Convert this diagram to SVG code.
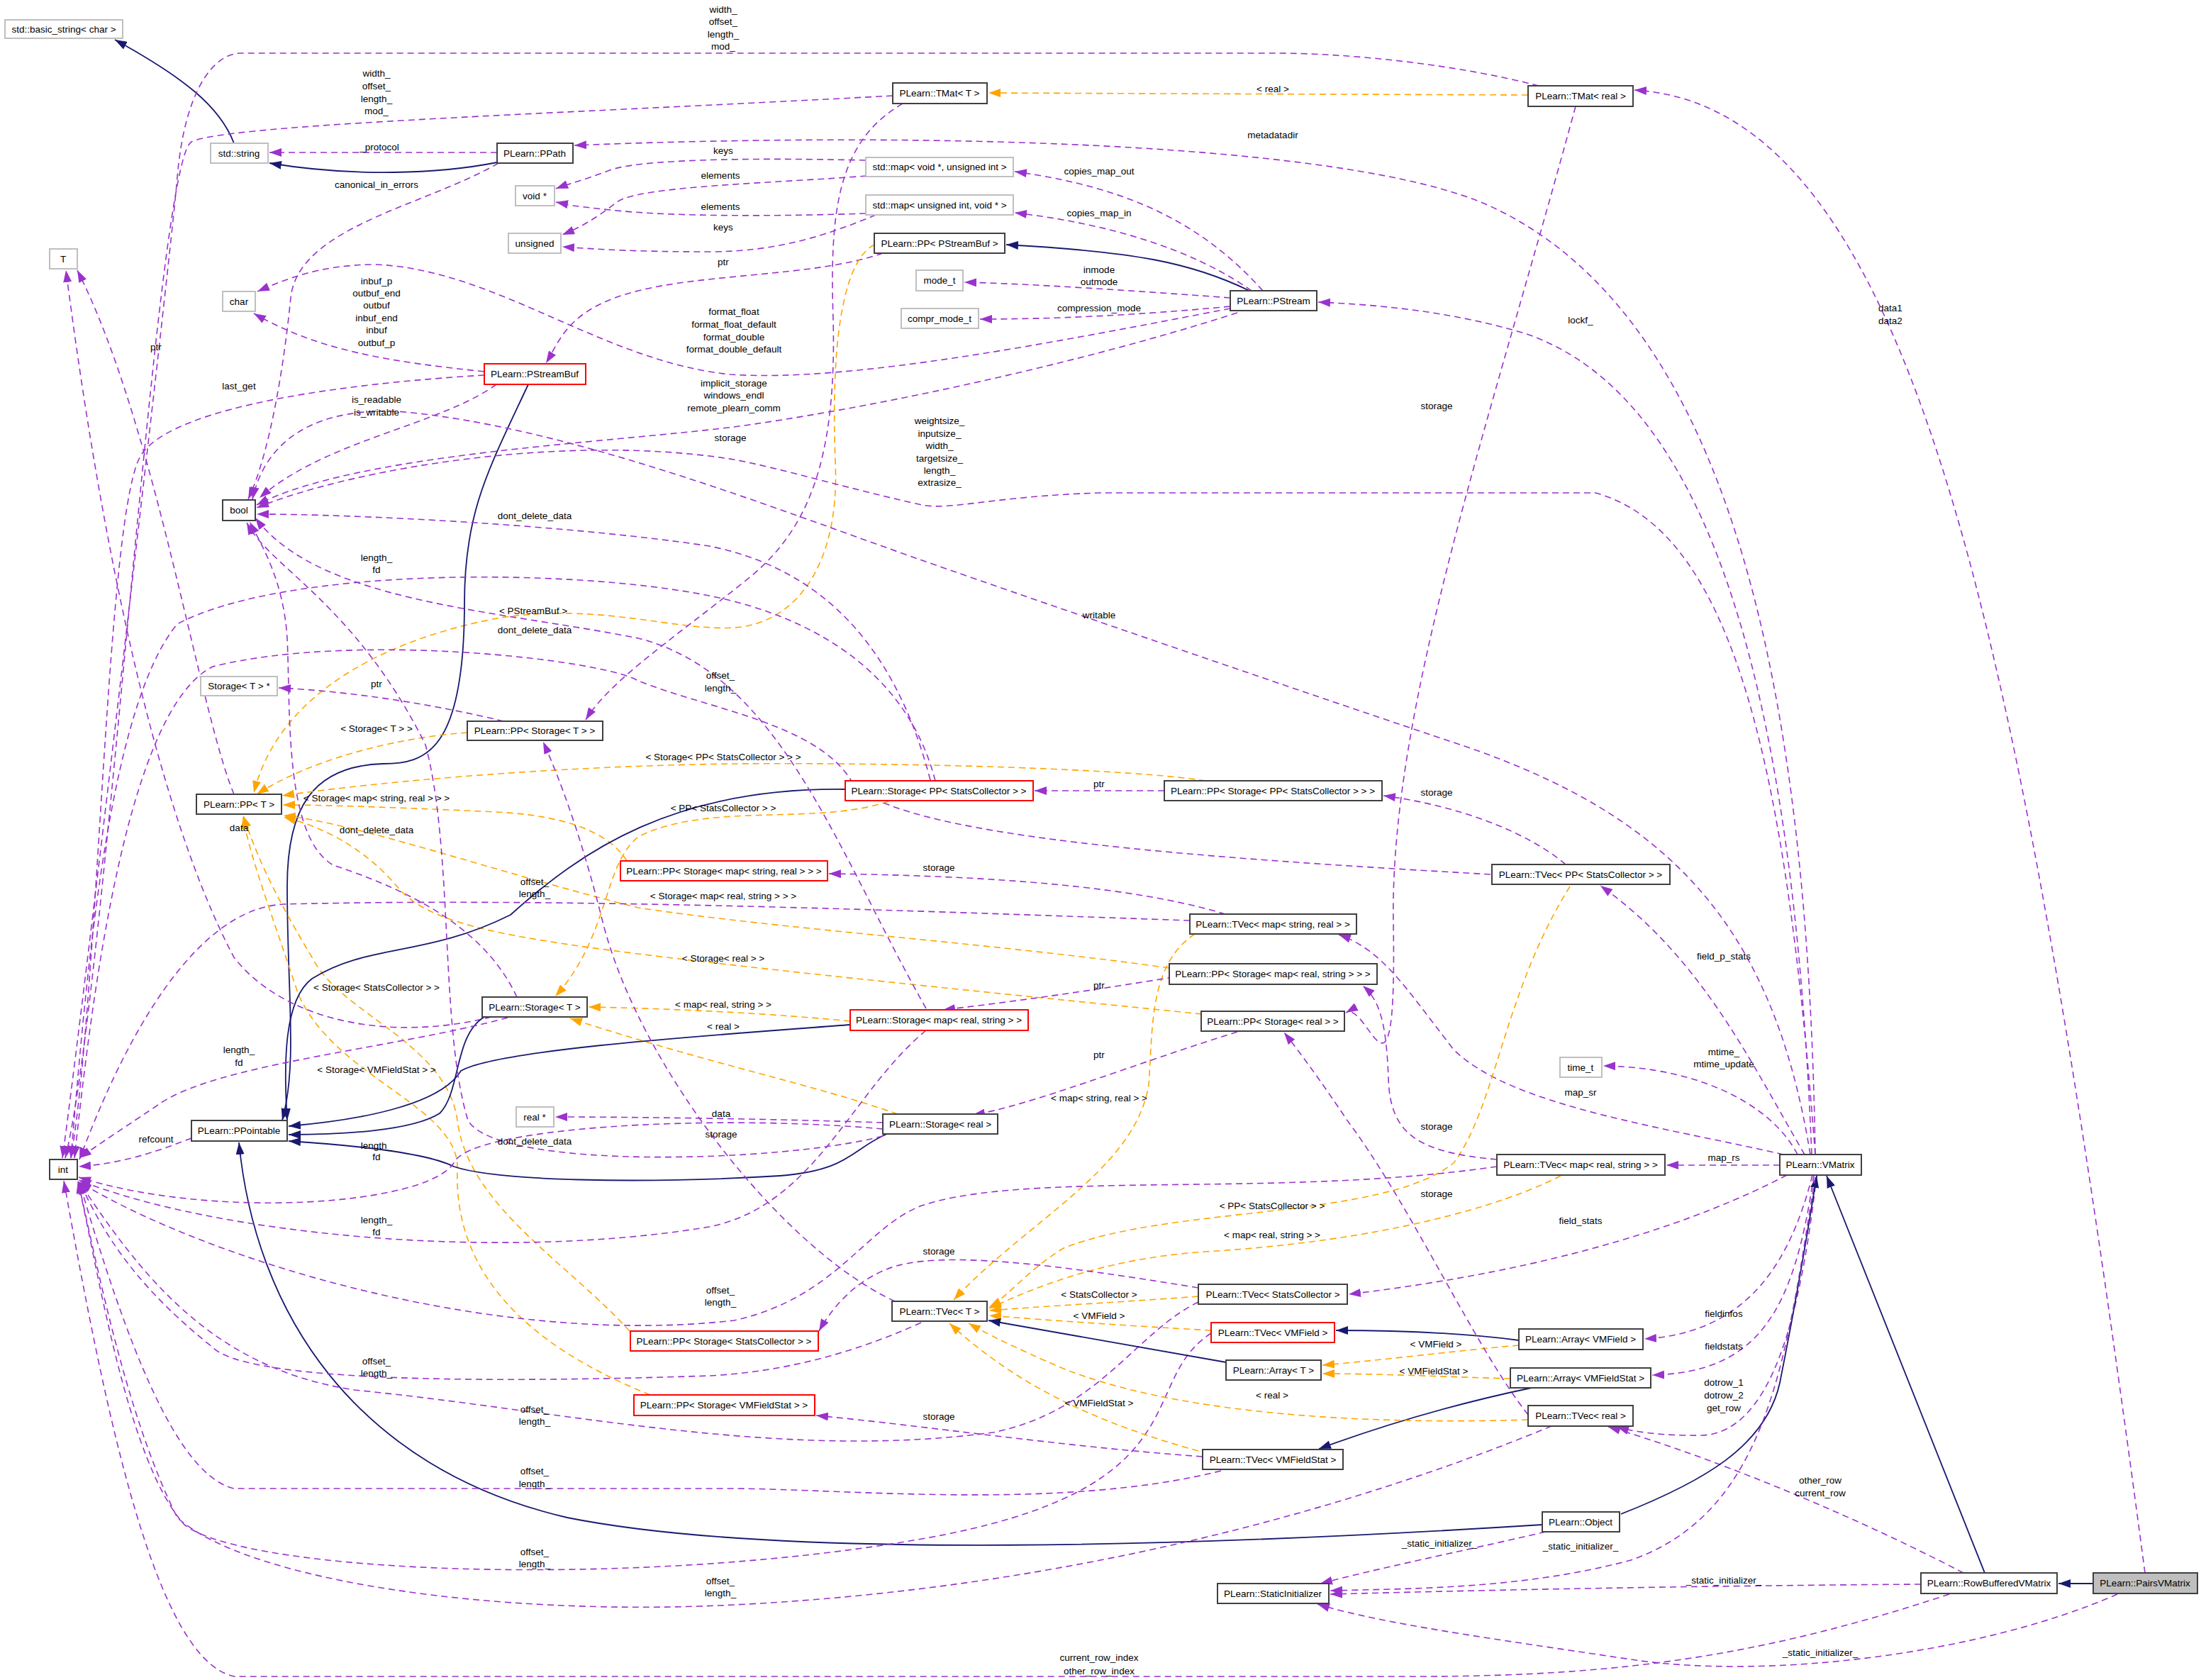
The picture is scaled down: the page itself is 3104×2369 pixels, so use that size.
<svg xmlns="http://www.w3.org/2000/svg" width="3104" height="2369" viewBox="0 0 3104 2369">
<style>
text{font-family:"Liberation Sans",Arial,sans-serif;font-size:13.5px;fill:#000;text-anchor:middle}
.n rect{fill:#fff;stroke:#404040;stroke-width:2}
.g rect{stroke:#bfbfbf}
.r rect{stroke:#ff0000}
.u{fill:none;stroke:#9a32cd;stroke-width:1.6;stroke-dasharray:9,6;marker-end:url(#mu)}
.t{fill:none;stroke:#ffa500;stroke-width:1.6;stroke-dasharray:9,6;marker-end:url(#mt)}
.i{fill:none;stroke:#191970;stroke-width:1.8;marker-end:url(#mi)}
</style>
<defs>
<marker id="mu" markerUnits="userSpaceOnUse" markerWidth="18" markerHeight="12" refX="17" refY="6" orient="auto"><path d="M0,0 L17,6 L0,12 z" fill="#9a32cd"/></marker>
<marker id="mt" markerUnits="userSpaceOnUse" markerWidth="18" markerHeight="12" refX="17" refY="6" orient="auto"><path d="M0,0 L17,6 L0,12 z" fill="#ffa500"/></marker>
<marker id="mi" markerUnits="userSpaceOnUse" markerWidth="18" markerHeight="12" refX="17" refY="6" orient="auto"><path d="M0,0 L17,6 L0,12 z" fill="#191970"/></marker>
</defs>
<rect width="3104" height="2369" fill="#fff"/>
<g id="edges">
<path class="i" d="M330 202 C310 150,260 110,162 56"/>
<path class="i" d="M701 229 C620 245,500 250,380 230"/>
<path class="u" d="M701 215 L380 215"/>
<path class="u" d="M703 230 C600 290,420 320,410 420 S380 640,350 704"/>
<path class="u" d="M1259 135 C800 160,320 175,270 200 S150 1400,92 1633"/>
<path class="u" d="M2170 121 C2050 90,1900 75,1800 75 L340 75 C300 75,260 130,250 250 S120 1400,88 1633"/>
<path class="t" d="M2155 134 L1394 131"/>
<path class="u" d="M2222 150 C2100 600,1960 1000,1965 1300 S1930 1410,1898 1428"/>
<path class="u" d="M3025 2218 C2850 900,2700 150,2305 127"/>
<path class="u" d="M2560 1628 C2550 1000,2450 450,2100 290 C1900 200,1300 185,810 205"/>
<path class="u" d="M1781 410 C1700 320,1600 265,1431 242"/>
<path class="u" d="M1765 410 C1680 350,1560 315,1431 300"/>
<path class="i" d="M1762 410 C1680 370,1600 355,1419 345"/>
<path class="u" d="M1735 420 C1600 410,1450 400,1360 398"/>
<path class="u" d="M1735 432 C1600 445,1480 450,1382 450"/>
<path class="u" d="M1735 435 C1500 480,1200 540,1030 528 C850 510,700 380,530 373 C450 373,400 395,363 411"/>
<path class="u" d="M1745 441 C1500 520,1200 580,1035 602 C850 625,500 640,362 712"/>
<path class="u" d="M1221 226 C1050 222,900 225,860 240 S800 260,784 266"/>
<path class="u" d="M1222 248 C1100 258,900 262,870 285 S820 320,793 331"/>
<path class="u" d="M1221 301 C1100 305,950 306,860 296 S810 290,784 285"/>
<path class="u" d="M1235 303 C1170 330,1100 355,1000 355 S850 352,793 348"/>
<path class="u" d="M1245 357 C1150 390,1000 385,900 410 S790 480,770 512"/>
<path class="t" d="M1233 345 C1185 370,1172 500,1178 650 C1185 800,1120 880,1035 885 C950 890,850 850,706 871 C600 890,400 950,358 1118"/>
<path class="u" d="M683 524 C550 510,450 495,358 442"/>
<path class="u" d="M683 529 C500 540,250 570,200 640 S140 1400,100 1633"/>
<path class="u" d="M700 542 C620 600,460 620,366 702"/>
<path class="i" d="M745 542 C690 660,655 720,655 850 C655 1060,600 1077,540 1077 C440 1080,405 1140,405 1250 C405 1400,420 1500,398 1580"/>
<path class="u" d="M710 1017 C620 995,500 975,393 970"/>
<path class="t" d="M659 1033 C560 1040,440 1070,362 1120"/>
<path class="u" d="M1273 146 C1180 200,1170 300,1175 450 C1180 650,1140 750,1050 820 C950 900,860 960,826 1015"/>
<path class="u" d="M2560 1628 C2520 1100,2450 750,2250 695 L1550 695 C1400 700,1340 720,1300 712 C1200 690,1100 660,1035 648 C800 610,500 660,362 716"/>
<path class="u" d="M2555 1628 C2530 1000,2420 560,2150 470 C2050 440,1950 430,1859 426"/>
<path class="u" d="M2553 1628 C2500 1300,2350 1150,2065 1052 C1850 980,1500 860,1300 790 C1100 720,800 600,560 580 C420 575,370 640,356 704"/>
<path class="t" d="M1700 1101 C1600 1085,1300 1075,1035 1077 C800 1080,550 1100,398 1122"/>
<path class="t" d="M884 1214 C860 1175,800 1150,700 1145 C550 1138,450 1135,399 1135"/>
<path class="t" d="M1253 1130 C1150 1165,1000 1130,900 1180 C850 1220,860 1320,783 1405"/>
<path class="t" d="M1649 1365 C1400 1330,1100 1310,900 1280 C700 1230,500 1160,400 1150"/>
<path class="u" d="M729 1406 C680 1300,560 1250,470 1220 C400 1180,410 1000,405 900 C400 820,370 770,352 736"/>
<path class="t" d="M1695 1430 C1400 1400,1100 1370,900 1345 C700 1320,600 1300,560 1250 C500 1180,430 1160,400 1152"/>
<path class="t" d="M888 1877 C800 1780,660 1700,645 1580 C630 1470,480 1430,440 1350 C380 1250,360 1200,343 1150"/>
<path class="t" d="M917 1967 C750 1900,640 1800,645 1650 C650 1560,470 1520,420 1400 C380 1280,350 1200,343 1152"/>
<path class="u" d="M693 1434 C550 1470,400 1440,330 1350 C250 1200,160 900,93 381"/>
<path class="u" d="M330 1120 C280 1000,220 600,109 381"/>
<path class="t" d="M1199 1440 C1100 1430,950 1422,830 1420"/>
<path class="t" d="M1266 1571 C1150 1530,1000 1500,804 1436"/>
<path class="i" d="M1192 1113 C950 1110,820 1200,720 1290 C600 1350,520 1330,440 1380 C400 1410,400 1500,405 1580"/>
<path class="i" d="M1199 1445 C1000 1460,700 1480,650 1510 C620 1560,500 1580,407 1588"/>
<path class="i" d="M683 1434 C640 1460,650 1540,620 1570 C580 1595,480 1600,407 1600"/>
<path class="i" d="M1253 1598 C1200 1620,1200 1650,1100 1658 C900 1670,700 1665,640 1645 C600 1625,500 1615,407 1609"/>
<path class="i" d="M2175 2150 C1700 2180,1100 2200,800 2140 C500 2070,360 1850,337 1611"/>
<path class="u" d="M270 1605 C230 1620,180 1640,111 1645"/>
<path class="u" d="M1319 1101 C1280 950,1150 870,1000 840 C800 800,400 800,250 880 C150 1000,120 1400,100 1633"/>
<path class="u" d="M1312 1100 C1260 900,1150 800,1000 770 C800 740,500 725,362 725"/>
<path class="u" d="M716 1435 C550 1480,300 1500,220 1560 C160 1600,130 1620,112 1633"/>
<path class="u" d="M1245 1592 C1000 1570,660 1590,640 1640 C600 1700,300 1720,111 1660"/>
<path class="u" d="M1306 1453 C1200 1540,1150 1700,1000 1730 C700 1780,300 1740,111 1664"/>
<path class="u" d="M1306 1422 C1180 1200,1100 950,900 900 C700 860,450 850,360 730"/>
<path class="u" d="M1245 1602 C1100 1640,700 1650,660 1580 C620 1450,640 1200,600 1050 C500 850,380 800,348 737"/>
<path class="u" d="M1245 1583 C1100 1578,900 1575,783 1575"/>
<path class="u" d="M2102 1233 C1700 1210,1250 1180,1200 1100 C1150 1020,1000 1000,900 960 C850 930,500 890,300 940 C180 1000,130 1400,105 1633"/>
<path class="u" d="M1678 1298 C1300 1285,800 1265,400 1275 C300 1280,200 1400,112 1635"/>
<path class="u" d="M1728 1289 C1600 1250,1400 1235,1169 1232"/>
<path class="t" d="M1685 1317 C1620 1360,1626 1450,1620 1530 C1600 1650,1450 1720,1345 1833"/>
<path class="u" d="M2515 1628 C2350 1590,2130 1560,2050 1480 C1980 1390,1950 1340,1888 1318"/>
<path class="u" d="M1685 1373 C1550 1395,1450 1410,1330 1424"/>
<path class="u" d="M1745 1455 C1600 1500,1450 1560,1372 1572"/>
<path class="u" d="M1642 1115 L1459 1115"/>
<path class="u" d="M2208 1219 C2150 1170,2050 1135,1951 1122"/>
<path class="u" d="M2545 1628 C2470 1500,2400 1350,2257 1249"/>
<path class="t" d="M2214 1250 C2120 1400,2110 1560,2050 1640 C1950 1720,1650 1700,1500 1760 C1450 1790,1420 1830,1395 1843"/>
<path class="t" d="M2201 1658 C2120 1700,1950 1750,1700 1765 C1550 1775,1450 1820,1395 1845"/>
<path class="u" d="M2510 1643 L2350 1643"/>
<path class="u" d="M2111 1635 C2000 1625,1960 1600,1958 1520 C1955 1440,1945 1410,1922 1390"/>
<path class="u" d="M2111 1645 C1800 1690,1450 1650,1300 1700 C1220 1730,1180 1830,1035 1862 C700 1900,300 1780,112 1667"/>
<path class="u" d="M1690 1816 C1500 1785,1320 1760,1250 1790 C1200 1810,1170 1850,1155 1877"/>
<path class="u" d="M2520 1657 C2400 1720,2200 1790,1902 1825"/>
<path class="t" d="M1690 1828 C1600 1835,1500 1840,1395 1848"/>
<path class="u" d="M1299 1865 C1200 1910,1100 1935,1000 1940 C700 1950,350 1950,300 1900 C200 1820,150 1750,112 1666"/>
<path class="u" d="M1690 1836 C1600 1880,1550 1990,1400 2020 C1100 2060,800 1990,500 1960 C300 1930,200 1800,112 1667"/>
<path class="t" d="M1708 1876 C1600 1870,1480 1862,1395 1855"/>
<path class="u" d="M1708 1880 C1600 1950,1700 2100,1300 2170 C900 2240,350 2220,260 2150 C180 2060,140 1800,110 1666"/>
<path class="i" d="M2142 1890 C2050 1878,1950 1876,1884 1876"/>
<path class="t" d="M2142 1897 C2050 1905,1950 1918,1865 1925"/>
<path class="t" d="M2130 1944 C2050 1942,1950 1937,1865 1937"/>
<path class="i" d="M1729 1921 L1394 1862"/>
<path class="i" d="M2160 1957 C2050 1980,1950 2010,1860 2043"/>
<path class="t" d="M1690 2046 C1560 2010,1440 1960,1339 1866"/>
<path class="u" d="M1696 2054 C1500 2040,1300 2010,1151 1996"/>
<path class="u" d="M1722 2074 C1500 2130,1200 2100,1035 2099 L330 2099 C250 2080,180 1900,112 1667"/>
<path class="t" d="M2155 2002 C1900 2010,1650 1990,1500 1930 C1430 1900,1390 1880,1366 1866"/>
<path class="u" d="M2155 1995 C2080 1900,1990 1700,1900 1580 C1860 1520,1830 1480,1811 1456"/>
<path class="u" d="M2188 2011 C1900 2130,1500 2240,1035 2263 C700 2280,350 2230,250 2140 C180 2000,140 1800,110 1665"/>
<path class="u" d="M2562 1657 C2540 1850,2500 2020,2400 2024 C2340 2025,2300 2018,2280 2012"/>
<path class="u" d="M2556 1657 C2520 1800,2450 1880,2319 1888"/>
<path class="u" d="M2558 1657 C2530 1850,2480 1935,2330 1939"/>
<path class="u" d="M2769 2218 C2600 2130,2400 2050,2268 2012"/>
<path class="i" d="M2799 2218 L2576 1658"/>
<path class="i" d="M2952 2233 L2903 2233"/>
<path class="i" d="M2286 2135 C2400 2090,2490 2040,2510 1950 C2540 1800,2555 1700,2562 1658"/>
<path class="u" d="M2560 1660 C2520 1900,2500 2130,2300 2200 C2150 2240,2000 2240,1876 2243"/>
<path class="u" d="M2180 2160 C2050 2190,1950 2210,1862 2233"/>
<path class="u" d="M2709 2234 C2400 2236,2100 2242,1876 2248"/>
<path class="u" d="M2986 2248 C2800 2330,2500 2370,2300 2340 C2100 2310,1950 2290,1858 2262"/>
<path class="u" d="M2749 2248 C2500 2330,2300 2364,2000 2364 L330 2364 C220 2340,150 2000,90 1665"/>
<path class="u" d="M1262 1835 C1100 1760,900 1500,850 1300 C820 1180,790 1100,766 1046"/>
<path class="u" d="M2535 1628 C2500 1560,2400 1505,2261 1503"/>
</g>
<g id="labels">
<text x="1020" y="18">width_</text><text x="1020" y="35">offset_</text><text x="1020" y="53">length_</text><text x="1020" y="70">mod_</text>
<text x="531" y="108">width_</text><text x="531" y="126">offset_</text><text x="531" y="144">length_</text><text x="531" y="161">mod_</text>
<text x="535" y="212">_protocol</text>
<text x="531" y="265">canonical_in_errors</text>
<text x="1020" y="217">keys</text><text x="1016" y="252">elements</text><text x="1016" y="296">elements</text><text x="1020" y="325">keys</text>
<text x="1020" y="374">ptr</text>
<text x="531" y="401">inbuf_p</text><text x="531" y="418">outbuf_end</text><text x="531" y="435">outbuf</text><text x="531" y="453">inbuf_end</text><text x="531" y="470">inbuf</text><text x="531" y="488">outbuf_p</text>
<text x="1035" y="444">format_float</text><text x="1035" y="462">format_float_default</text><text x="1035" y="480">format_double</text><text x="1035" y="497">format_double_default</text>
<text x="220" y="494">ptr</text>
<text x="337" y="549">last_get</text>
<text x="531" y="568">is_readable</text><text x="531" y="586">is_writable</text>
<text x="1035" y="545">implicit_storage</text><text x="1035" y="562">windows_endl</text><text x="1035" y="580">remote_plearn_comm</text>
<text x="1030" y="622">storage</text>
<text x="754" y="732">dont_delete_data</text>
<text x="531" y="791">length_</text><text x="531" y="808">fd</text>
<text x="1795" y="130">&lt; real &gt;</text>
<text x="1795" y="195">metadatadir</text>
<text x="1550" y="246">copies_map_out</text>
<text x="1550" y="305">copies_map_in</text>
<text x="1550" y="385">inmode</text><text x="1550" y="402">outmode</text>
<text x="1550" y="439">compression_mode</text>
<text x="2026" y="577">storage</text>
<text x="1325" y="598">weightsize_</text><text x="1325" y="616">inputsize_</text><text x="1325" y="633">width_</text><text x="1325" y="651">targetsize_</text><text x="1325" y="668">length_</text><text x="1325" y="685">extrasize_</text>
<text x="2229" y="456">lockf_</text>
<text x="2666" y="439">data1</text><text x="2666" y="457">data2</text>
<text x="752" y="866">&lt; PStreamBuf &gt;</text>
<text x="754" y="893">dont_delete_data</text>
<text x="531" y="969">ptr</text>
<text x="531" y="1032">&lt; Storage&lt; T &gt; &gt;</text>
<text x="1016" y="957">offset_</text><text x="1016" y="975">length_</text>
<text x="1020" y="1072">&lt; Storage&lt; PP&lt; StatsCollector &gt; &gt; &gt;</text>
<text x="531" y="1130">&lt; Storage&lt; map&lt; string, real &gt; &gt; &gt;</text>
<text x="337" y="1172">data</text>
<text x="531" y="1175">dont_delete_data</text>
<text x="1020" y="1144">&lt; PP&lt; StatsCollector &gt; &gt;</text>
<text x="754" y="1248">offset_</text><text x="754" y="1265">length_</text>
<text x="1020" y="1268">&lt; Storage&lt; map&lt; real, string &gt; &gt; &gt;</text>
<text x="1020" y="1356">&lt; Storage&lt; real &gt; &gt;</text>
<text x="531" y="1397">&lt; Storage&lt; StatsCollector &gt; &gt;</text>
<text x="1020" y="1421">&lt; map&lt; real, string &gt; &gt;</text>
<text x="1020" y="1452">&lt; real &gt;</text>
<text x="337" y="1485">length_</text><text x="337" y="1503">fd</text>
<text x="531" y="1513">&lt; Storage&lt; VMFieldStat &gt; &gt;</text>
<text x="1017" y="1575">data</text>
<text x="1550" y="872">writable</text>
<text x="1550" y="1110">ptr</text>
<text x="2026" y="1122">storage</text>
<text x="1324" y="1228">storage</text>
<text x="1550" y="1394">ptr</text>
<text x="1550" y="1492">ptr</text>
<text x="1550" y="1553">&lt; map&lt; string, real &gt; &gt;</text>
<text x="2431" y="1353">field_p_stats</text>
<text x="2431" y="1488">mtime_</text><text x="2431" y="1505">mtime_update</text>
<text x="2229" y="1545">map_sr</text>
<text x="220" y="1611">refcount</text>
<text x="531" y="1620">length_</text><text x="531" y="1636">fd</text>
<text x="754" y="1614">dont_delete_data</text>
<text x="1017" y="1604">storage</text>
<text x="531" y="1725">length_</text><text x="531" y="1742">fd</text>
<text x="1016" y="1824">offset_</text><text x="1016" y="1841">length_</text>
<text x="531" y="1924">offset_</text><text x="531" y="1941">length_</text>
<text x="754" y="1992">offset_</text><text x="754" y="2009">length_</text>
<text x="754" y="2079">offset_</text><text x="754" y="2097">length_</text>
<text x="754" y="2193">offset_</text><text x="754" y="2210">length_</text>
<text x="1016" y="2234">offset_</text><text x="1016" y="2251">length_</text>
<text x="2026" y="1593">storage</text>
<text x="2026" y="1688">storage</text>
<text x="1794" y="1705">&lt; PP&lt; StatsCollector &gt; &gt;</text>
<text x="1794" y="1746">&lt; map&lt; real, string &gt; &gt;</text>
<text x="1324" y="1769">storage</text>
<text x="1550" y="1830">&lt; StatsCollector &gt;</text>
<text x="1550" y="1860">&lt; VMField &gt;</text>
<text x="2025" y="1900">&lt; VMField &gt;</text>
<text x="2022" y="1938">&lt; VMFieldStat &gt;</text>
<text x="1794" y="1972">&lt; real &gt;</text>
<text x="1550" y="1983">&lt; VMFieldStat &gt;</text>
<text x="1324" y="2002">storage</text>
<text x="2030" y="2181">_static_initializer_</text>
<text x="1550" y="2342">current_row_index</text><text x="1550" y="2361">other_row_index</text>
<text x="2431" y="1637">map_rs</text>
<text x="2229" y="1726">field_stats</text>
<text x="2431" y="1857">fieldinfos</text>
<text x="2431" y="1903">fieldstats</text>
<text x="2431" y="1954">dotrow_1</text><text x="2431" y="1972">dotrow_2</text><text x="2431" y="1990">get_row</text>
<text x="2567" y="2092">other_row</text><text x="2567" y="2110">current_row</text>
<text x="2229" y="2185">_static_initializer_</text>
<text x="2431" y="2233">_static_initializer_</text>
<text x="2567" y="2335">_static_initializer_</text>
</g>
<g id="basic_string" class="n g"><rect x="7" y="28" width="166" height="26"/><text x="90" y="46">std::basic_string&lt; char &gt;</text></g>
<g id="std_string" class="n g"><rect x="297" y="202" width="81" height="28"/><text x="337" y="221">std::string</text></g>
<g id="PPath" class="n"><rect x="701" y="202" width="107" height="28"/><text x="754" y="221">PLearn::PPath</text></g>
<g id="voidptr" class="n g"><rect x="727" y="262" width="55" height="28"/><text x="754" y="281">void *</text></g>
<g id="unsigned" class="n g"><rect x="717" y="329" width="74" height="28"/><text x="754" y="348">unsigned</text></g>
<g id="T" class="n g"><rect x="70" y="351" width="39" height="28"/><text x="89" y="370">T</text></g>
<g id="char" class="n g"><rect x="314" y="411" width="46" height="28"/><text x="337" y="430">char</text></g>
<g id="PStreamBuf" class="n r"><rect x="683" y="513" width="143" height="29"/><text x="754" y="532">PLearn::PStreamBuf</text></g>
<g id="bool" class="n"><rect x="314" y="705" width="46" height="29"/><text x="337" y="724">bool</text></g>
<g id="TMatT" class="n"><rect x="1259" y="117" width="133" height="29"/><text x="1325" y="136">PLearn::TMat&lt; T &gt;</text></g>
<g id="mapVU" class="n g"><rect x="1221" y="222" width="208" height="27"/><text x="1325" y="240">std::map&lt; void *, unsigned int &gt;</text></g>
<g id="mapUV" class="n g"><rect x="1221" y="275" width="208" height="28"/><text x="1325" y="294">std::map&lt; unsigned int, void * &gt;</text></g>
<g id="PPPStreamBuf" class="n"><rect x="1233" y="329" width="184" height="28"/><text x="1325" y="348">PLearn::PP&lt; PStreamBuf &gt;</text></g>
<g id="mode_t" class="n g"><rect x="1292" y="381" width="66" height="29"/><text x="1325" y="400">mode_t</text></g>
<g id="compr_mode_t" class="n g"><rect x="1271" y="435" width="109" height="28"/><text x="1325" y="454">compr_mode_t</text></g>
<g id="PStream" class="n"><rect x="1735" y="410" width="122" height="28"/><text x="1796" y="429">PLearn::PStream</text></g>
<g id="TMatReal" class="n"><rect x="2155" y="121" width="148" height="29"/><text x="2229" y="140">PLearn::TMat&lt; real &gt;</text></g>
<g id="StorageTptr" class="n g"><rect x="283" y="954" width="108" height="27"/><text x="337" y="972">Storage&lt; T &gt; *</text></g>
<g id="PPStorageT" class="n"><rect x="659" y="1017" width="191" height="27"/><text x="754" y="1035">PLearn::PP&lt; Storage&lt; T &gt; &gt;</text></g>
<g id="PPT" class="n"><rect x="277" y="1120" width="120" height="28"/><text x="337" y="1139">PLearn::PP&lt; T &gt;</text></g>
<g id="PPStMapSR" class="n r"><rect x="875" y="1214" width="292" height="28"/><text x="1021" y="1233">PLearn::PP&lt; Storage&lt; map&lt; string, real &gt; &gt; &gt;</text></g>
<g id="StorageT" class="n"><rect x="680" y="1406" width="148" height="28"/><text x="754" y="1425">PLearn::Storage&lt; T &gt;</text></g>
<g id="StoragePPSC" class="n r"><rect x="1192" y="1101" width="265" height="28"/><text x="1324" y="1120">PLearn::Storage&lt; PP&lt; StatsCollector &gt; &gt;</text></g>
<g id="PPStoragePPSC" class="n"><rect x="1642" y="1101" width="307" height="28"/><text x="1795" y="1120">PLearn::PP&lt; Storage&lt; PP&lt; StatsCollector &gt; &gt; &gt;</text></g>
<g id="TVecMapSR" class="n"><rect x="1678" y="1289" width="235" height="28"/><text x="1795" y="1308">PLearn::TVec&lt; map&lt; string, real &gt; &gt;</text></g>
<g id="PPStMapRS" class="n"><rect x="1649" y="1359" width="293" height="29"/><text x="1795" y="1378">PLearn::PP&lt; Storage&lt; map&lt; real, string &gt; &gt; &gt;</text></g>
<g id="StorageMapRS" class="n r"><rect x="1199" y="1424" width="251" height="29"/><text x="1324" y="1443">PLearn::Storage&lt; map&lt; real, string &gt; &gt;</text></g>
<g id="PPStorageReal" class="n"><rect x="1694" y="1426" width="202" height="28"/><text x="1795" y="1445">PLearn::PP&lt; Storage&lt; real &gt; &gt;</text></g>
<g id="realptr" class="n g"><rect x="728" y="1561" width="53" height="28"/><text x="754" y="1580">real *</text></g>
<g id="StorageReal" class="n"><rect x="1245" y="1571" width="162" height="28"/><text x="1326" y="1590">PLearn::Storage&lt; real &gt;</text></g>
<g id="TVecPPSC" class="n"><rect x="2104" y="1219" width="251" height="28"/><text x="2229" y="1238">PLearn::TVec&lt; PP&lt; StatsCollector &gt; &gt;</text></g>
<g id="time_t" class="n g"><rect x="2200" y="1491" width="59" height="28"/><text x="2229" y="1510">time_t</text></g>
<g id="PPointable" class="n"><rect x="270" y="1580" width="135" height="29"/><text x="337" y="1599">PLearn::PPointable</text></g>
<g id="int" class="n"><rect x="70" y="1635" width="39" height="28"/><text x="89" y="1654">int</text></g>
<g id="PPStSC" class="n r"><rect x="889" y="1877" width="265" height="28"/><text x="1021" y="1896">PLearn::PP&lt; Storage&lt; StatsCollector &gt; &gt;</text></g>
<g id="PPStVMFS" class="n r"><rect x="894" y="1967" width="255" height="29"/><text x="1021" y="1986">PLearn::PP&lt; Storage&lt; VMFieldStat &gt; &gt;</text></g>
<g id="TVecT" class="n"><rect x="1258" y="1835" width="134" height="28"/><text x="1325" y="1854">PLearn::TVec&lt; T &gt;</text></g>
<g id="TVecSC" class="n"><rect x="1690" y="1811" width="210" height="28"/><text x="1795" y="1830">PLearn::TVec&lt; StatsCollector &gt;</text></g>
<g id="TVecVMF" class="n r"><rect x="1708" y="1865" width="174" height="28"/><text x="1795" y="1884">PLearn::TVec&lt; VMField &gt;</text></g>
<g id="ArrayT" class="n"><rect x="1729" y="1918" width="134" height="28"/><text x="1796" y="1937">PLearn::Array&lt; T &gt;</text></g>
<g id="TVecVMFS" class="n"><rect x="1696" y="2044" width="198" height="28"/><text x="1795" y="2063">PLearn::TVec&lt; VMFieldStat &gt;</text></g>
<g id="StaticInit" class="n"><rect x="1717" y="2233" width="157" height="28"/><text x="1795" y="2252">PLearn::StaticInitializer</text></g>
<g id="TVecMapRS" class="n"><rect x="2111" y="1628" width="237" height="29"/><text x="2229" y="1647">PLearn::TVec&lt; map&lt; real, string &gt; &gt;</text></g>
<g id="VMatrix" class="n"><rect x="2510" y="1628" width="115" height="29"/><text x="2567" y="1647">PLearn::VMatrix</text></g>
<g id="ArrayVMF" class="n"><rect x="2142" y="1874" width="175" height="29"/><text x="2229" y="1893">PLearn::Array&lt; VMField &gt;</text></g>
<g id="ArrayVMFS" class="n"><rect x="2130" y="1929" width="198" height="28"/><text x="2229" y="1948">PLearn::Array&lt; VMFieldStat &gt;</text></g>
<g id="TVecReal" class="n"><rect x="2155" y="1982" width="148" height="29"/><text x="2229" y="2001">PLearn::TVec&lt; real &gt;</text></g>
<g id="Object" class="n"><rect x="2175" y="2132" width="109" height="28"/><text x="2229" y="2151">PLearn::Object</text></g>
<g id="RowBuf" class="n"><rect x="2709" y="2218" width="192" height="29"/><text x="2805" y="2237">PLearn::RowBufferedVMatrix</text></g>
<g id="Pairs" class="n"><rect x="2952" y="2218" width="147" height="29" style="fill:#bfbfbf"/><text x="3025" y="2237">PLearn::PairsVMatrix</text></g>
</svg>
